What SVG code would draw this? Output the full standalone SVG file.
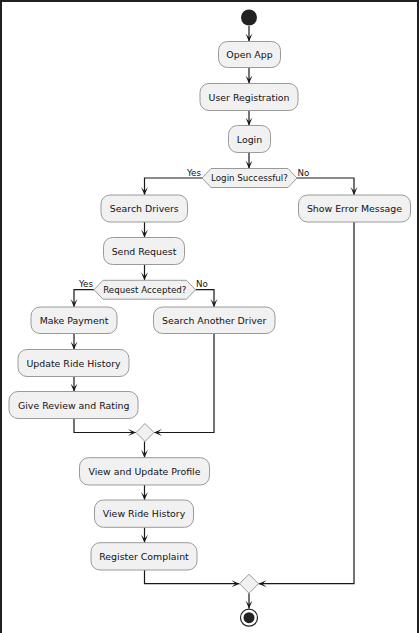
<svg xmlns="http://www.w3.org/2000/svg" width="419" height="633" viewBox="0 0 419 633">
  <style>
    .act rect { fill: #F1F1F1; stroke: #9a9a9a; stroke-width: 1; }
    .act text { font-family: "DejaVu Sans", sans-serif; font-size: 9.4px; fill: #111; text-anchor: middle; }
    .dec polygon { fill: #F1F1F1; stroke: #9a9a9a; stroke-width: 1; }
    .dec text { font-family: "DejaVu Sans", sans-serif; font-size: 8.7px; fill: #111; text-anchor: middle; }
    .lbl { font-family: "DejaVu Sans", sans-serif; font-size: 8.7px; fill: #111; }
    .edge { fill: none; stroke: #181818; stroke-width: 1.2; marker-end: url(#arr); }
  </style>
  <defs>
    <marker id="arr" viewBox="0 0 8 8" refX="8" refY="4" markerWidth="8" markerHeight="8" orient="auto" markerUnits="userSpaceOnUse">
      <path d="M8,4 L0,0.5 L4,4 L0,7.5 Z" fill="#181818"/>
    </marker>
  </defs>

  <!-- frame -->
  <rect x="0" y="0" width="419" height="633" fill="#1f2125"/>
  <rect x="2" y="2" width="415" height="631" fill="#ffffff"/>

  <!-- connectors -->
  <g id="connectors">
    <path class="edge" d="M249,26 V41.5"/>
    <path class="edge" d="M249,67.5 V83.5"/>
    <path class="edge" d="M249,110.5 V125.5"/>
    <path class="edge" d="M249,152.5 V168.5"/>
    <path class="edge" d="M202,178 H144.5 V195"/>
    <path class="edge" d="M297,178 H354 V195"/>
    <path class="edge" d="M144.5,222 V237.5"/>
    <path class="edge" d="M144.5,264.5 V280.3"/>
    <path class="edge" d="M94,289.7 H74 V307"/>
    <path class="edge" d="M195.5,289.7 H214 V307"/>
    <path class="edge" d="M74,333.5 V349.5"/>
    <path class="edge" d="M74,376.5 V391.5"/>
    <path class="edge" d="M74,418.5 V432.5 H136"/>
    <path class="edge" d="M214,333.5 V432.5 H154"/>
    <path class="edge" d="M144.5,441.5 V457.7"/>
    <path class="edge" d="M144.5,485 V500"/>
    <path class="edge" d="M144.5,527.3 V542.7"/>
    <path class="edge" d="M144.5,570 V583.7 H239.5"/>
    <path class="edge" d="M354,222 V583.7 H258.5"/>
    <path class="edge" d="M249,593.3 V608.5"/>
    <text class="lbl" x="201" y="175.5" text-anchor="end">Yes</text>
    <text class="lbl" x="297.5" y="175.5">No</text>
    <text class="lbl" x="93" y="287" text-anchor="end">Yes</text>
    <text class="lbl" x="196" y="287">No</text>
  </g>

  <!-- start -->
  <g id="start">
    <circle cx="249" cy="17.5" r="8" fill="#222222"/>
  </g>

  <g id="open-app" class="act">
    <rect x="218.5" y="41.5" width="62" height="26" rx="9"/>
    <text x="249.5" y="58">Open App</text>
  </g>
  <g id="user-registration" class="act">
    <rect x="200" y="83.5" width="98" height="27" rx="9"/>
    <text x="249" y="100.5">User Registration</text>
  </g>
  <g id="login" class="act">
    <rect x="228.5" y="125.5" width="42" height="27" rx="9"/>
    <text x="249.5" y="142.5">Login</text>
  </g>
  <g id="login-successful" class="dec">
    <polygon points="202,178 211,168.5 288,168.5 297,178 288,187.5 211,187.5"/>
    <text x="249.5" y="181">Login Successful?</text>
  </g>
  <g id="search-drivers" class="act">
    <rect x="101" y="195" width="86.5" height="27" rx="9"/>
    <text x="144.3" y="212">Search Drivers</text>
  </g>
  <g id="show-error" class="act">
    <rect x="298.5" y="195" width="112" height="27" rx="9"/>
    <text x="354.5" y="212">Show Error Message</text>
  </g>
  <g id="send-request" class="act">
    <rect x="103.5" y="237.5" width="81" height="27" rx="9"/>
    <text x="144" y="254.5">Send Request</text>
  </g>
  <g id="request-accepted" class="dec">
    <polygon points="94,289.7 103,280.3 186.5,280.3 195.5,289.7 186.5,299.2 103,299.2"/>
    <text x="144.8" y="292.7">Request Accepted?</text>
  </g>
  <g id="make-payment" class="act">
    <rect x="31" y="307" width="86" height="26.5" rx="9"/>
    <text x="74" y="323.5">Make Payment</text>
  </g>
  <g id="search-another-driver" class="act">
    <rect x="153.5" y="307" width="121.5" height="26.5" rx="9"/>
    <text x="214.3" y="323.5">Search Another Driver</text>
  </g>
  <g id="update-ride-history" class="act">
    <rect x="18" y="349.5" width="111" height="27" rx="9"/>
    <text x="73.5" y="366.5">Update Ride History</text>
  </g>
  <g id="give-review" class="act">
    <rect x="9" y="391.5" width="129" height="27" rx="9"/>
    <text x="73.7" y="408.5">Give Review and Rating</text>
  </g>
  <g id="merge-request" class="dec">
    <polygon points="145,423.5 154,432.5 145,441.5 136,432.5"/>
  </g>
  <g id="view-update-profile" class="act">
    <rect x="79.5" y="457.7" width="130" height="27.3" rx="9"/>
    <text x="144.5" y="474.7">View and Update Profile</text>
  </g>
  <g id="view-ride-history" class="act">
    <rect x="94.5" y="500" width="99" height="27.3" rx="9"/>
    <text x="144" y="517">View Ride History</text>
  </g>
  <g id="register-complaint" class="act">
    <rect x="91" y="542.7" width="106" height="27.3" rx="9"/>
    <text x="144" y="559.7">Register Complaint</text>
  </g>
  <g id="merge-login" class="dec">
    <polygon points="249,574.3 258.5,583.7 249,593.3 239.5,583.7"/>
  </g>

  <!-- end -->
  <g id="end">
    <circle cx="249" cy="617.7" r="8.5" fill="none" stroke="#222222" stroke-width="1.2"/>
    <circle cx="249" cy="617.7" r="5.5" fill="#222222"/>
  </g>
</svg>
